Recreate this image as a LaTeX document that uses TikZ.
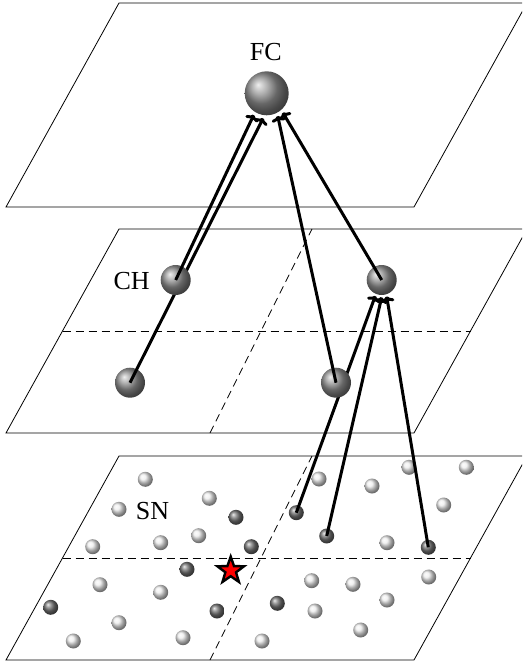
\documentclass[tikz,border=0pt]{standalone}
\usepackage{fontspec}
\setmainfont{Liberation Serif}
\usetikzlibrary{shapes.geometric, arrows.meta}

\begin{document}
\begin{tikzpicture}[x=1pt, y=-1pt,
    plane/.style={line width=0.8pt},
    divider/.style={line width=0.7pt, dash pattern=on 8pt off 5pt},
    bigball/.style={circle, inner sep=0pt, outer sep=3pt, minimum size=44pt, ball color=gray!85},
    midball/.style={circle, inner sep=0pt, outer sep=2pt, minimum size=30pt, ball color=gray!85},
    lightdot/.style={circle, inner sep=0pt, minimum size=15pt, ball color=gray!15},
    darkdot/.style={circle, inner sep=0pt, minimum size=15pt, ball color=black!55},
    link/.style={-{To[length=6pt, width=14pt]}, line width=3pt},
    tag/.style={inner sep=0pt, font=\fontsize{26}{30}\selectfont}]
  \useasboundingbox (0,0) rectangle (522,666);
  \clip (0,0) rectangle (522,666);

  % the three planes
  \foreach \yb in {207,433,660}
    \draw[plane] (6,\yb) -- ++(408,0) -- ++(113,-204) -- ++(-408,0) -- cycle;
  \foreach \yb in {433,660} {
    \draw[divider] (62.5,\yb-102) -- (470.5,\yb-102);
    \draw[divider] (210,\yb) -- (312,\yb-204);
  }

  % sensor nodes
  \foreach \x/\y [count=\i] in {145.3/479.3, 119/509.3, 209.3/498.3, 92.7/546.7,
      160.7/542.7, 198.7/535.7, 319/479, 372/486, 409/467.3, 466.3/467.3,
      443.7/505, 387/542.7, 428.7/577, 100/584.7, 160.7/592.3, 311.7/580.7,
      353/584.3, 387/600, 315/611, 119/622.7, 73.3/641, 183/637.7, 262/641,
      360.7/630}
    \node[lightdot] (l\i) at (\x,\y) {};
  \foreach \x/\y [count=\i] in {236/517.3, 251.3/546.7, 187/569.3, 50.7/607.3,
      217/611, 277.3/603.3}
    \node[darkdot] (d\i) at (\x,\y) {};
  \node[darkdot] (s1) at (296.3,512.7) {};
  \node[darkdot] (s2) at (326.7,536) {};
  \node[darkdot] (s3) at (428.3,547.3) {};
  \node[star, star points=5, star point ratio=2.5, minimum size=28pt,
        inner sep=0pt, fill=red, draw=black, line width=2.4pt] (sink) at (230.7,570.6) {};

  % fusion centre and cluster heads
  \node[bigball] (fc) at (266.7,93.3) {};
  \node[midball] (ch2) at (381.7,280) {};
  \node[midball] (ch3) at (130,382.7) {};

  \draw[link] (ch3.center) -- (fc.262);
  \draw[link] (s1.center) -- (ch2.248);
  \draw[link] (s2.center) -- (ch2.270);
  \draw[link] (s3.center) -- (ch2.287);

  \node[midball] (ch1) at (175.7,280) {};
  \node[midball] (ch4) at (336,382.7) {};

  \draw[link] (ch1.center) -- (fc.239);
  \draw[link] (ch4.center) -- (fc.296);
  \draw[link] (ch2.center) -- (fc.310);

  % labels
  \node[tag] (fctext) at (265.7,52.5) {FC};
  \node[tag] (chtext) at (131.7,281.3) {CH};
  \node[tag] (sntext) at (152.5,510.8) {SN};
\end{tikzpicture}
\end{document}
